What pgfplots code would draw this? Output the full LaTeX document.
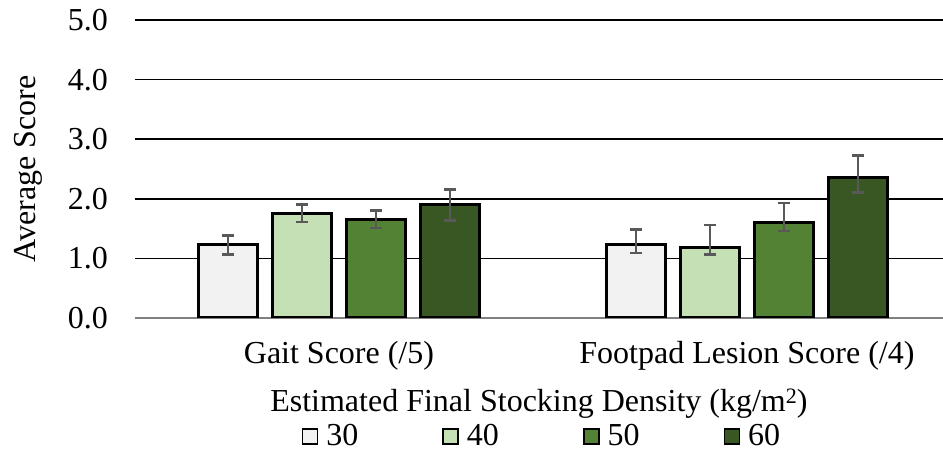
\documentclass[border=0pt]{standalone}
\usepackage{pgfplots}
\pgfplotsset{compat=1.18}
\usepackage{fontspec}
\setmainfont{Liberation Serif}
\definecolor{c30}{HTML}{F2F2F2}
\definecolor{c40}{HTML}{C5E0B4}
\definecolor{c50}{HTML}{548235}
\definecolor{c60}{HTML}{385723}
\definecolor{errc}{HTML}{595959}
\newcommand{\f}{\fontsize{16}{19.2}\selectfont}
\begin{document}
\f
\begin{tikzpicture}
\useasboundingbox (-67.5pt,-67.5pt) rectangle (404pt,159pt);
\begin{axis}[
  scale only axis,
  width=403.9pt, height=149pt,
  xmin=-0.5, xmax=1.48,
  ymin=0, ymax=5,
  ytick={0,1,2,3,4,5},
  yticklabel style={/pgf/number format/fixed, /pgf/number format/fixed zerofill, /pgf/number format/precision=1},
  /pgf/number format/assume math mode=true,
  xtick={0,1},
  xticklabels={Gait Score (/5), Footpad Lesion Score (/4)},
  major tick length=0pt,
  axis lines*=left,
  y axis line style={draw=none},
  x axis line style={draw=gray, line width=0.8pt},
  ymajorgrids,
  grid style={black, line width=0.8pt},
  ybar=7.5pt,
  bar width=29.5pt,
  tick label style={font=\f},
  yticklabel style={xshift=-8pt},
  xticklabel style={yshift=-6pt},
  ylabel={Average Score},
  ylabel style={font=\f, yshift=2pt},
  xlabel={Estimated Final Stocking Density (kg/m{\raisebox{0.5ex}{\fontsize{11}{12}\selectfont 2}})},
  xlabel style={font=\f, yshift=1.5pt},
  legend columns=4,
  legend style={draw=none, fill=none, font=\f, at={(0.505,-0.40)}, anchor=center,
    /tikz/every odd column/.append style={column sep=2pt},
    /tikz/every even column/.append style={column sep=40pt}, inner sep=0pt},
  legend image code/.code={\draw[#1, draw=black, line width=0.8pt, fill] (0pt,-3.5pt) rectangle (7.5pt,4pt);},
  error bars/y dir=both,
  error bars/y explicit,
  error bars/error bar style={errc, line width=1.2pt},
  error bars/error mark options={rotate=90, mark size=3.2pt, errc, line width=1.4pt},
  every axis plot/.append style={draw=black, line width=1.5pt},
]
\addplot[fill=c30] table[x=x, y=y, y error plus=ep, y error minus=em] {
x y ep em
0 1.24 0.15 0.17
1 1.24 0.24 0.15
};
\addplot[fill=c40] table[x=x, y=y, y error plus=ep, y error minus=em] {
x y ep em
0 1.76 0.15 0.15
1 1.19 0.37 0.13
};
\addplot[fill=c50] table[x=x, y=y, y error plus=ep, y error minus=em] {
x y ep em
0 1.66 0.15 0.15
1 1.61 0.32 0.15
};
\addplot[fill=c60] table[x=x, y=y, y error plus=ep, y error minus=em] {
x y ep em
0 1.90 0.25 0.27
1 2.35 0.37 0.25
};
\legend{30,40,50,60}
\end{axis}
\end{tikzpicture}
\end{document}
